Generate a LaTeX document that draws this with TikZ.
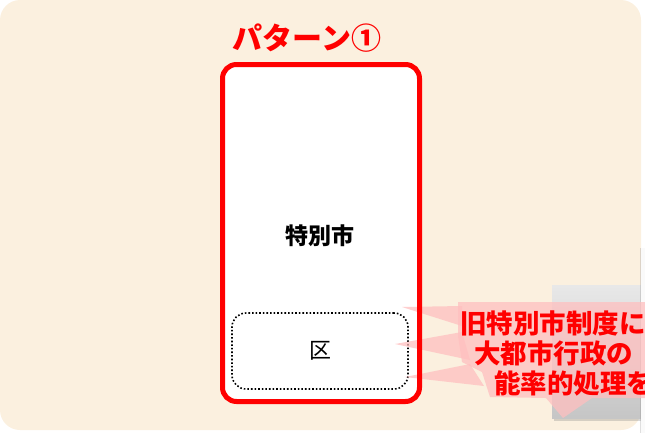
\documentclass[tikz,border=0pt]{standalone}
\usepackage{fontspec}
\setmainfont{Noto Sans CJK JP}
\usetikzlibrary{positioning,shadows,calc}
\definecolor{beige}{HTML}{FBF0DF}
\tikzstyle{citybox} = [rectangle, fill=white, outer sep=0pt, %
   rounded corners=14pt, minimum width=197pt, minimum height=337pt]
\tikzstyle{cityborder} = [draw=red, line width=5pt, rounded corners=14pt]
\tikzstyle{wardbox} = [rectangle, draw, dotted, line width=1.6pt, %
   rounded corners=14pt, minimum width=176pt, minimum height=76pt]
\tikzstyle{graybox} = [rectangle, top color=gray!18, bottom color=gray!45, %
   drop shadow={shadow xshift=2pt, shadow yshift=-3pt, opacity=0.3}]
\tikzstyle{pointer} = [fill=red!25, opacity=0.75]
\tikzstyle{notetext} = [text=red, font=\fontsize{26.5}{30}\selectfont\bfseries, %
   inner sep=0pt, anchor=west]

\begin{document}
\begin{tikzpicture}[x=1pt, y=-1pt]
   \useasboundingbox (0,0) rectangle (645,432);
   \begin{scope}
      \clip (0,0) rectangle (645,432);
      % Background
      \fill[beige, rounded corners=20pt] (0,0) rectangle (641,430);
      \node[graybox, minimum width=89pt, minimum height=133pt] (memo) at (596.5,351.5) {};
      \fill[gray!4, drop shadow={shadow xshift=-1.5pt, shadow yshift=0pt, opacity=0.25}] %
         (641,248) rectangle (670,440);

      % Place nodes
      \node[text=red, font=\fontsize{30}{36}\selectfont\bfseries] (title) at (307,38) {パターン①};
      \node[citybox] (city) at (321,233) {};
      \node[font=\fontsize{23}{28}\selectfont\bfseries] (citylabel) at (320,236) {特別市};
      \node[wardbox] (ward) at (320,351) {};
      \node[font=\fontsize{22}{26}\selectfont] (wardlabel) at (ward.center) {区};

      % Callout
      \coordinate (tipA) at (402,307);
      \coordinate (tipB) at (395,344);
      \coordinate (tipC) at (405,377);
      \coordinate (tipD) at (563,418);
      \fill[pointer] (458,302) -- (680,302) -- (680,398) -- (592,398) -- (tipD) %
         -- (546,398) -- (490,397) -- (482,372) -- (462,362) -- (458,336) -- cycle;
      \fill[pointer] (tipA) -- (462,306) -- (462,326) -- cycle;
      \fill[pointer] (tipB) -- (462,332) -- (470,360) -- cycle;
      \fill[pointer] (tipC) -- (470,364) -- (484,386) -- cycle;

      % Border over the pointers
      \draw[cityborder] (city.south west) rectangle (city.north east);

      \node[notetext] (noteA) at (460,323) {旧特別市制度に};
      \node[notetext] (noteB) at (474,353) {大都市行政の};
      \node[notetext] (noteC) at (494,383) {能率的処理を};
   \end{scope}
\end{tikzpicture}
\end{document}
